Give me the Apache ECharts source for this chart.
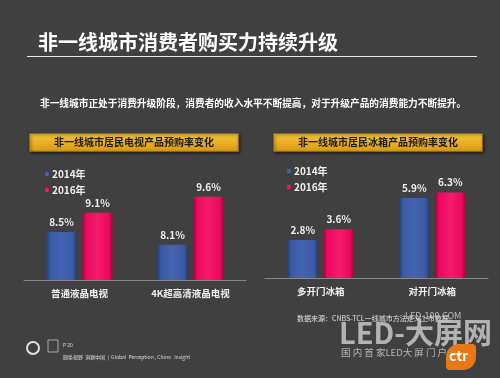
<!DOCTYPE html>
<html>
<head>
<meta charset="utf-8">
<script src="https://cdn.jsdelivr.net/npm/echarts@6/dist/echarts.min.js"></script>
<style>html,body{margin:0;padding:0;background:#404040;}#c{width:500px;height:378px;}</style>
</head>
<body>
<div id="c"></div>
<script>
var seriesNames = ['2014年', '2016年'];
var tvCategories = ['普通液晶电视', '4K超高清液晶电视'];
var tv2014 = [8.5, 8.1];
var tv2016 = [9.1, 9.6];
var fridgeCategories = ['多开门冰箱', '对开门冰箱'];
var fridge2014 = [2.8, 5.9];
var fridge2016 = [3.6, 6.3];

var FONT = '"Noto Sans CJK SC", "Noto Sans", sans-serif';
function grad(dark, main, light) {
  return new echarts.graphic.LinearGradient(0, 0, 1, 0, [
    {offset: 0, color: dark}, {offset: 0.12, color: main}, {offset: 0.5, color: light},
    {offset: 0.88, color: main}, {offset: 1, color: dark}
  ]);
}
var blue = grad('#263d7a', '#3b5aa6', '#4364b2');
var red = grad('#a8003c', '#ec0860', '#f61a6c');
var lbl = {show: true, position: 'top', distance: 5, color: '#f0f0f0', fontSize: 10, fontWeight: 'bold', fontFamily: FONT, formatter: '{c}%'};
function headerBox(x, text) {
  return {type: 'group', left: x, top: 133, children: [
    {type: 'rect', shape: {x: 0, y: 0, width: 209, height: 18},
     style: {fill: new echarts.graphic.LinearGradient(0, 0, 0, 1, [{offset: 0, color: '#f7c53a'}, {offset: 1, color: '#d99a12'}]), stroke: '#8a6410', lineWidth: 1,
       shadowBlur: 3, shadowColor: 'rgba(0,0,0,0.6)', shadowOffsetX: 1, shadowOffsetY: 1}},
    {type: 'text', x: 104.5, y: 9, style: {text: text, fill: '#1a1a1a', font: 'bold 10px ' + FONT, textAlign: 'center', textVerticalAlign: 'middle'}}
  ]};
}
var chart = echarts.init(document.getElementById('c'));
chart.setOption({
  backgroundColor: '#404040',
  animation: false,
  title: [
    {text: '非一线城市消费者购买力持续升级', left: 33, top: 27, textStyle: {color: '#ffffff', fontSize: 20, fontWeight: 'bold', fontFamily: FONT}},
    {text: '非一线城市正处于消费升级阶段，消费者的收入水平不断提高，对于升级产品的消费能力不断提升。', left: 35, top: 93, textStyle: {color: '#ffffff', fontSize: 9.7, fontWeight: 'bold', fontFamily: FONT}}
  ],
  legend: [
    {data: seriesNames.map(function(n){return {name: n};}), orient: 'vertical', left: 40, top: 164, itemWidth: 4, itemHeight: 4, itemGap: 6, icon: 'rect',
     textStyle: {color: '#f0f0f0', fontSize: 10, fontWeight: 'bold', fontFamily: FONT, padding: [0,0,0,-2]}},
    {data: seriesNames.map(function(n){return {name: n};}), orient: 'vertical', left: 282, top: 161, itemWidth: 4, itemHeight: 4, itemGap: 6, icon: 'rect',
     textStyle: {color: '#f0f0f0', fontSize: 10, fontWeight: 'bold', fontFamily: FONT, padding: [0,0,0,-2]}}
  ],
  grid: [
    {left: 24, width: 222, top: 184, height: 96},
    {left: 265, width: 223, top: 183, height: 95}
  ],
  xAxis: [
    {type: 'category', gridIndex: 0, data: tvCategories, axisTick: {show: false}, axisLine: {lineStyle: {color: '#8a8a8a', width: 1}},
     axisLabel: {color: '#f0f0f0', fontSize: 9.5, fontWeight: 'bold', fontFamily: FONT, margin: 9}},
    {type: 'category', gridIndex: 1, data: fridgeCategories, axisTick: {show: false}, axisLine: {lineStyle: {color: '#8a8a8a', width: 1}},
     axisLabel: {color: '#f0f0f0', fontSize: 9.5, fontWeight: 'bold', fontFamily: FONT, margin: 9}}
  ],
  yAxis: [
    {type: 'value', gridIndex: 0, min: 7, max: 10, show: false, splitLine: {show: false}},
    {type: 'value', gridIndex: 1, min: 0, max: 7, show: false, splitLine: {show: false}}
  ],
  series: [
    {name: seriesNames[0], type: 'bar', xAxisIndex: 0, yAxisIndex: 0, data: tv2014, barWidth: 30, barGap: '20%', itemStyle: {color: blue, borderRadius: [2,2,0,0]}, label: lbl},
    {name: seriesNames[1], type: 'bar', xAxisIndex: 0, yAxisIndex: 0, data: tv2016, barWidth: 30, barGap: '20%', itemStyle: {color: red, borderRadius: [2,2,0,0]}, label: lbl},
    {name: seriesNames[0], type: 'bar', xAxisIndex: 1, yAxisIndex: 1, data: fridge2014, barWidth: 30, barGap: '20%', itemStyle: {color: blue, borderRadius: [2,2,0,0]}, label: lbl},
    {name: seriesNames[1], type: 'bar', xAxisIndex: 1, yAxisIndex: 1, data: fridge2016, barWidth: 30, barGap: '20%', itemStyle: {color: red, borderRadius: [2,2,0,0]}, label: lbl}
  ],
  color: ['#3b5aa6', '#ec0860'],
  graphic: [
    {type: 'line', shape: {x1: 27, y1: 56.5, x2: 477, y2: 56.5}, style: {stroke: '#e8e8e8', lineWidth: 1}},
    headerBox(29, '非一线城市居民电视产品预购率变化'),
    headerBox(273, '非一线城市居民冰箱产品预购率变化'),
    {type: 'text', left: 297, top: 315, style: {text: '数据来源：CNBS-TCL一线城市方法定义上市数据。', fill: '#e0e0e0', font: '7px ' + FONT}},
    {type: 'text', left: 405, top: 311, style: {text: 'LED-100.COM', fill: 'rgba(220,220,220,0.8)', font: '9px ' + FONT}},
    {type: 'text', left: 339, top: 318, style: {text: 'LED-大屏网', fill: 'rgba(200,200,200,0.85)', font: 'bold 29px ' + FONT}},
    {type: 'text', left: 341, top: 348, style: {text: '国 内 首 家LED大 屏 门 户 网 站', fill: 'rgba(200,200,200,0.85)', font: '9.5px ' + FONT}},
    {type: 'rect', shape: {x: 446, y: 344, width: 30, height: 26, r: [13, 4, 13, 4]}, style: {fill: '#e87817'}},
    {type: 'text', left: 449, top: 349, style: {text: 'ctr', fill: '#ffffff', font: 'bold 14px ' + FONT}},
    {type: 'circle', shape: {cx: 33, cy: 348, r: 6}, style: {fill: 'none', stroke: '#e0e0e0', lineWidth: 2}},
    {type: 'rect', shape: {x: 48, y: 340, width: 10, height: 12}, style: {fill: 'none', stroke: '#aaaaaa', lineWidth: 1}},
    {type: 'text', left: 63, top: 343, style: {text: 'P 20', fill: '#dddddd', font: '5px ' + FONT}},
    {type: 'text', left: 63, top: 355, style: {text: '圆坐视野  洞察中国  |  Global  Perception , China   Insight', fill: '#dddddd', font: '5px ' + FONT}}
  ]
});
</script>
</body>
</html>
